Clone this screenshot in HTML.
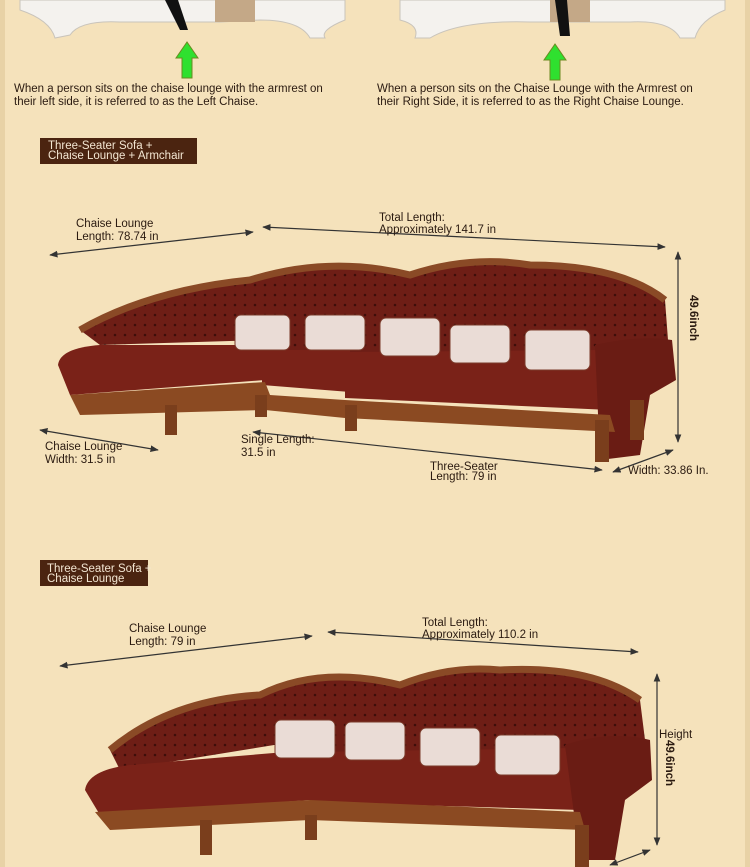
<!DOCTYPE html>
<html><head><meta charset="utf-8"><style>
html,body{margin:0;padding:0;width:750px;height:867px;overflow:hidden;background:#f5e2bb;}
svg{display:block}
text{font-family:"Liberation Sans",sans-serif;font-size:11.5px;fill:#2a1a10;}
</style></head><body>
<svg width="750" height="867" viewBox="0 0 750 867">
<defs>
<marker id="a" viewBox="0 0 10 10" refX="9" refY="5" markerWidth="7" markerHeight="7" orient="auto-start-reverse"><path d="M0 1 L10 5 L0 9Z" fill="#333"/></marker>
<pattern id="tuft" width="10" height="10" patternUnits="userSpaceOnUse"><rect width="10" height="10" fill="#6e1e16"/><circle cx="5" cy="5" r="1.3" fill="#3e0e0a"/></pattern>
</defs>
<rect width="750" height="867" fill="#f5e2bb"/>
<rect x="0" y="0" width="5" height="867" fill="#e8d2a6"/>
<rect x="745" y="0" width="5" height="867" fill="#e8d2a6"/>
<g fill="#f4f2ee" stroke="#c9c4bb">
<path d="M20 0 H345 V20 Q320 30 325 38 L310 38 Q300 20 260 20 L220 22 L120 22 Q80 20 70 35 L55 38 Q50 20 20 10Z"/>
<path d="M400 0 H725 V10 Q700 20 695 38 L680 38 Q670 20 630 22 L530 22 Q460 20 430 38 L415 38 Q420 25 400 20Z"/>
</g>
<rect x="215" y="0" width="40" height="22" fill="#c4a887"/>
<rect x="550" y="0" width="40" height="22" fill="#c4a887"/>
<path d="M165 0 L180 30 L188 30 L178 0Z" fill="#111"/>
<path d="M555 0 L560 36 L570 36 L567 0Z" fill="#111"/>
<path d="M187 42 L176 58 L182 58 L182 78 L192 78 L192 58 L198 58Z" fill="#2fe02f" stroke="#6a8a20" stroke-width="1"/>
<path d="M555 44 L544 60 L550 60 L550 80 L560 80 L560 60 L566 60Z" fill="#2fe02f" stroke="#6a8a20" stroke-width="1"/>
<text x="14" y="92">When a person sits on the chaise lounge with the armrest on</text>
<text x="14" y="105">their left side, it is referred to as the Left Chaise.</text>
<text x="377" y="92">When a person sits on the Chaise Lounge with the Armrest on</text>
<text x="377" y="105">their Right Side, it is referred to as the Right Chaise Lounge.</text>
<rect x="40" y="138" width="157" height="26" fill="#4b2410"/>
<text x="48" y="149" style="fill:#f3e6d2">Three-Seater Sofa +</text>
<text x="48" y="159" style="fill:#f3e6d2">Chaise Lounge + Armchair</text>
<rect x="40" y="560" width="108" height="26" fill="#4b2410"/>
<text x="47" y="572" style="fill:#f3e6d2">Three-Seater Sofa +</text>
<text x="47" y="582" style="fill:#f3e6d2">Chaise Lounge</text>
<!-- sofa 1 -->
<g>
<path d="M80 330 Q150 290 250 280 Q330 255 410 275 Q470 255 530 265 Q620 265 665 300 L668 340 L600 345 L600 360 L360 360 L340 355 L270 355 L265 340 L100 345Z" fill="url(#tuft)"/>
<path d="M80 330 Q150 290 250 280 Q330 255 410 275 Q470 255 530 265 Q620 265 665 300" fill="none" stroke="#8a4a26" stroke-width="7"/>
<path d="M58 365 Q60 348 100 345 L265 345 L265 380 L70 395Z" fill="#7a2218"/>
<path d="M262 350 L350 350 L350 392 L262 385Z" fill="#7a2218"/>
<path d="M345 352 L600 350 L610 410 L345 398Z" fill="#7a2218"/>
<path d="M595 345 Q640 335 672 340 L676 380 L650 395 L640 455 L600 460 Z" fill="#6a1c14"/>
<path d="M70 395 L265 382 L270 395 L345 400 L610 415 L615 432 L345 418 L265 410 L80 415Z" fill="#8b4a22"/>
<rect x="165" y="405" width="12" height="30" fill="#7a3e1c"/>
<rect x="255" y="395" width="12" height="22" fill="#7a3e1c"/>
<rect x="345" y="405" width="12" height="26" fill="#7a3e1c"/>
<rect x="595" y="420" width="14" height="42" fill="#7a3e1c"/>
<rect x="630" y="400" width="14" height="40" fill="#7a3e1c"/>
<g fill="#eadcd6" stroke="#7a3a2a">
<rect x="235" y="315" width="55" height="35" rx="6"/>
<rect x="305" y="315" width="60" height="35" rx="6"/>
<rect x="380" y="318" width="60" height="38" rx="6"/>
<rect x="450" y="325" width="60" height="38" rx="6"/>
<rect x="525" y="330" width="65" height="40" rx="6"/>
</g>
</g>
<!-- sofa 2 -->
<g>
<path d="M110 750 Q170 700 260 695 Q320 665 400 685 Q450 665 500 670 Q590 665 640 700 L645 740 L570 745 L570 760 L330 760 L310 755 L305 740 L120 770Z" fill="url(#tuft)"/>
<path d="M110 750 Q170 700 260 695 Q320 665 400 685 Q450 665 500 670 Q590 665 640 700" fill="none" stroke="#8a4a26" stroke-width="7"/>
<path d="M85 790 Q88 770 130 765 L310 750 L310 800 L100 815Z" fill="#7a2218"/>
<path d="M310 752 L570 748 L580 810 L310 802Z" fill="#7a2218"/>
<path d="M565 745 Q610 730 650 740 L652 780 L625 800 L615 860 L580 860 Z" fill="#6a1c14"/>
<path d="M95 812 L310 800 L580 812 L585 830 L310 820 L110 830Z" fill="#8b4a22"/>
<rect x="200" y="820" width="12" height="35" fill="#7a3e1c"/>
<rect x="305" y="815" width="12" height="25" fill="#7a3e1c"/>
<rect x="575" y="825" width="14" height="42" fill="#7a3e1c"/>
<g fill="#eadcd6" stroke="#7a3a2a">
<rect x="275" y="720" width="60" height="38" rx="6"/>
<rect x="345" y="722" width="60" height="38" rx="6"/>
<rect x="420" y="728" width="60" height="38" rx="6"/>
<rect x="495" y="735" width="65" height="40" rx="6"/>
</g>
</g>
<g stroke="#333" stroke-width="1.2" fill="none" marker-start="url(#a)" marker-end="url(#a)">
<line x1="50" y1="255" x2="253" y2="232"/>
<line x1="263" y1="227" x2="665" y2="247"/>
<line x1="678" y1="252" x2="678" y2="442"/>
<line x1="40" y1="430" x2="158" y2="450"/>
<line x1="253" y1="432" x2="602" y2="470"/>
<line x1="613" y1="472" x2="673" y2="450"/>
<line x1="60" y1="666" x2="312" y2="636"/>
<line x1="328" y1="632" x2="638" y2="652"/>
<line x1="657" y1="674" x2="657" y2="845"/>
<line x1="610" y1="865" x2="650" y2="850"/>
</g>
<text x="76" y="227">Chaise Lounge</text>
<text x="76" y="240">Length: 78.74 in</text>
<text x="379" y="221">Total Length:</text>
<text x="379" y="233">Approximately 141.7 in</text>
<text x="690" y="295" transform="rotate(90 690 295)" style="font-weight:bold">49.6inch</text>
<text x="45" y="450">Chaise Lounge</text>
<text x="45" y="463">Width: 31.5 in</text>
<text x="241" y="443">Single Length:</text>
<text x="241" y="456">31.5 in</text>
<text x="430" y="470">Three-Seater</text>
<text x="430" y="480">Length: 79 in</text>
<text x="628" y="474">Width: 33.86 In.</text>
<text x="129" y="632">Chaise Lounge</text>
<text x="129" y="645">Length: 79 in</text>
<text x="422" y="626">Total Length:</text>
<text x="422" y="638">Approximately 110.2 in</text>
<text x="659" y="738">Height</text>
<text x="666" y="740" transform="rotate(90 666 740)" style="font-weight:bold">49.6inch</text>
</svg>
</body></html>
